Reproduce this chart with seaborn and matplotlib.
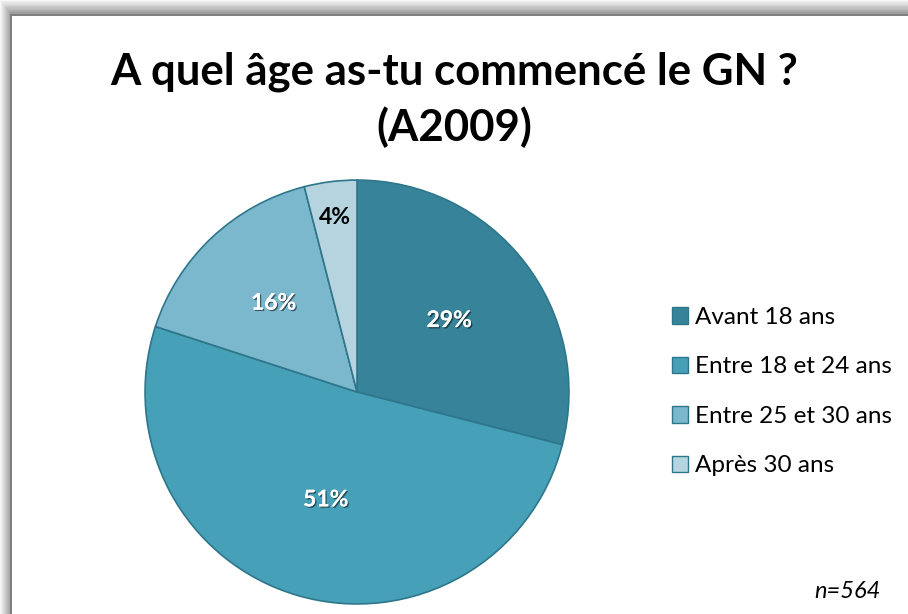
import numpy as np
import matplotlib
matplotlib.use("Agg")
import matplotlib.pyplot as plt
import matplotlib.patheffects as pe
from matplotlib.patches import Rectangle
import seaborn as sns

categories = ["Avant 18 ans", "Entre 18 et 24 ans", "Entre 25 et 30 ans", "Après 30 ans"]
values = [29, 51, 16, 4]
labels_pct = ["29%", "51%", "16%", "4%"]
colors = ["#37849A", "#46A0B8", "#7BB8CE", "#B5D4E0"]
label_colors = ["white", "white", "white", "black"]
label_dist = [0.55, 0.53, 0.575, 0.83]

sns.set_theme(style="white")
plt.rcParams['font.family'] = ['Lato', 'DejaVu Sans']

W, H = 908, 614
fig = plt.figure(figsize=(W / 100, H / 100), dpi=100)
fig.patch.set_facecolor("white")

# frame with soft shadow (top and left edges visible)
for i in range(12):
    g = 0.97 - 0.035 * i
    fig.add_artist(Rectangle((i / W, 0), 1 / W + 0.0001, 1 - (i * 1.2) / H,
                             transform=fig.transFigure, facecolor=(g, g, g),
                             edgecolor="none", zorder=-10))
    fig.add_artist(Rectangle((i / W, 1 - (i * 1.25 + 1.3) / H), 1, 1.3 / H + 0.0001,
                             transform=fig.transFigure, facecolor=(g, g, g),
                             edgecolor="none", zorder=-10))
fig.add_artist(Rectangle((10 / W, 0), 2 / W, 1 - 14 / H, transform=fig.transFigure,
                         facecolor="#7f7f7f", edgecolor="none", zorder=-9))
fig.add_artist(Rectangle((10 / W, 1 - 16 / H), 1, 2 / H, transform=fig.transFigure,
                         facecolor="#7f7f7f", edgecolor="none", zorder=-9))
fig.add_artist(Rectangle((12 / W, 0), 1, 1 - 16 / H, transform=fig.transFigure,
                         facecolor="white", edgecolor="none", zorder=-8))

# pie axes: center (357, 392), radius 213
cx, cy, r = 357, 392, 213
ax = fig.add_axes([(cx - r) / W, (H - cy - r) / H, 2 * r / W, 2 * r / H])
ax.set_facecolor("none")
ax.set_zorder(5)
wedges, _ = ax.pie(values, colors=colors, startangle=90, counterclock=False,
                   wedgeprops=dict(edgecolor="#2E7689", linewidth=1.2))
ax.set_aspect("equal")
ax.set_xlim(-1.005, 1.005)
ax.set_ylim(-1.005, 1.005)

for w, lab, col, d in zip(wedges, labels_pct, label_colors, label_dist):
    ang = np.deg2rad((w.theta1 + w.theta2) / 2)
    effects = [pe.withSimplePatchShadow(offset=(1, -1), shadow_rgbFace="black", alpha=0.5), pe.Normal()] if col == "white" else []
    ax.text(d * np.cos(ang), d * np.sin(ang), lab, ha="center", va="center",
            fontsize=16.5, fontweight="bold", color=col, path_effects=effects)

# title
fig.text(0.5, 1 - 72 / H, "A quel âge as-tu commencé le GN ?", ha="center", va="center",
         fontsize=31.5, fontweight="bold", color="black")
fig.text(0.5, 1 - 127 / H, "(A2009)", ha="center", va="center",
         fontsize=31.5, fontweight="bold", color="black")

# legend
handles = [Rectangle((0, 0), 1, 1, facecolor=c, edgecolor="#2E7689", linewidth=1) for c in colors]
leg = fig.legend(handles, categories, loc="upper left", bbox_to_anchor=(672 / W, 1 - 307 / H),
                 frameon=False, fontsize=17.5, handlelength=0.66, handleheight=0.66,
                 handletextpad=0.3, labelspacing=1.17, borderaxespad=0, borderpad=0)
for t in leg.get_texts():
    t.set_color("black")

fig.text(847 / W, 1 - 592 / H, "n=564", ha="center", va="center", fontsize=17,
         fontstyle="italic", color="black")

fig.savefig("out.png", dpi=100, facecolor="white")
